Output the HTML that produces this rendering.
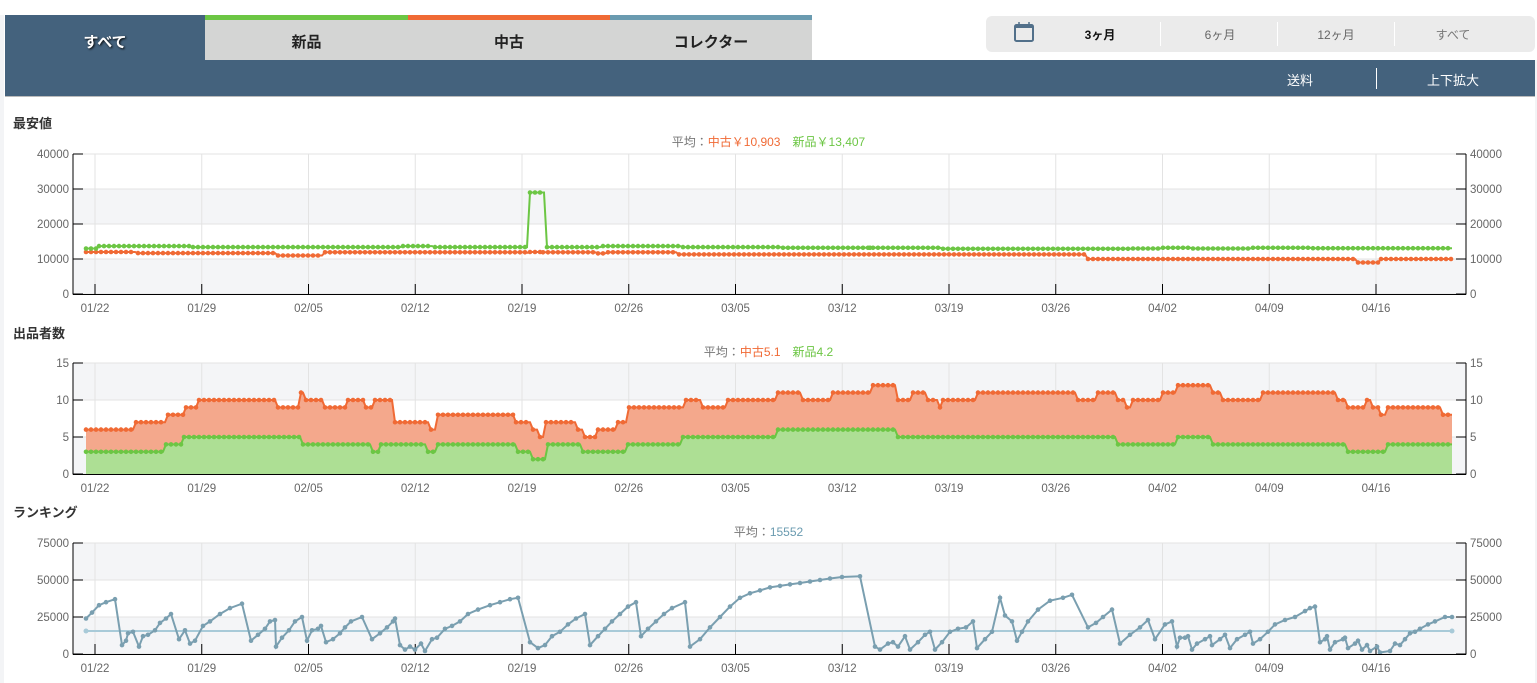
<!DOCTYPE html>
<html><head><meta charset="utf-8">
<style>
body{margin:0;width:1537px;height:683px;background:#fff;font-family:"Liberation Sans","Noto Sans CJK JP",sans-serif;overflow:hidden;position:relative}
.a{position:absolute}
.tab{position:absolute;top:15px;height:45px;text-align:center;line-height:46px;font-weight:bold;font-size:15px;color:#222;background:#d4d5d4;box-sizing:border-box}
.ttl{position:absolute;left:13px;font-size:13px;font-weight:bold;color:#333}
.sub{position:absolute;left:0;width:1537px;text-align:center;font-size:12px;color:#777}
svg text{font-family:"Liberation Sans","DejaVu Sans",sans-serif;font-size:11.5px;fill:#666}
</style></head><body>
<div class="a" style="left:0;top:15px;width:4px;height:668px;background:#f3f4f6"></div>
<div class="a" style="left:1535px;top:60px;width:2px;height:623px;background:#f3f4f6"></div>
<div class="a" style="left:5px;top:15px;width:200px;height:45px;background:#44627d;color:#fff;font-weight:bold;font-size:15px;text-align:center;line-height:55px;text-shadow:1px 1px 2px #000">すべて</div>
<div class="tab" style="left:205px;width:203px;border-top:5px solid #6cc644">新品</div>
<div class="tab" style="left:408px;width:202px;border-top:5px solid #f06a35">中古</div>
<div class="tab" style="left:610px;width:202px;border-top:5px solid #6a9bb0">コレクター</div>
<div class="a" style="left:5px;top:60px;width:1530px;height:36px;background:#44627d;border-bottom:1px solid #bbb"></div>
<div class="a" style="left:1270px;top:70px;width:60px;text-align:center;color:#fff;font-size:13px">送料</div>
<div class="a" style="left:1376px;top:68px;width:1px;height:21px;background:#fff"></div>
<div class="a" style="left:1413px;top:70px;width:80px;text-align:center;color:#fff;font-size:13px">上下拡大</div>
<div class="a" style="left:986px;top:16px;width:549px;height:36px;background:#ebebeb;border-radius:6px"></div>
<svg class="a" style="left:1013px;top:21px" width="22" height="22" viewBox="0 0 22 22"><rect x="2" y="4" width="18" height="16" rx="1.5" fill="none" stroke="#52708a" stroke-width="2"/><rect x="2" y="4" width="18" height="3" fill="#52708a"/><line x1="6" y1="1" x2="6" y2="5" stroke="#52708a" stroke-width="1.5"/><line x1="16" y1="1" x2="16" y2="5" stroke="#52708a" stroke-width="1.5"/></svg>
<div class="a" style="left:1060px;top:26px;width:80px;text-align:center;font-size:12px;font-weight:bold;color:#111">3ヶ月</div>
<div class="a" style="left:1160px;top:22px;width:1px;height:24px;background:#fff"></div>
<div class="a" style="left:1180px;top:26px;width:80px;text-align:center;font-size:12px;color:#666">6ヶ月</div>
<div class="a" style="left:1277px;top:22px;width:1px;height:24px;background:#fff"></div>
<div class="a" style="left:1296px;top:26px;width:80px;text-align:center;font-size:12px;color:#666">12ヶ月</div>
<div class="a" style="left:1394px;top:22px;width:1px;height:24px;background:#fff"></div>
<div class="a" style="left:1413px;top:26px;width:80px;text-align:center;font-size:12px;color:#777">すべて</div>

<div class="ttl" style="top:113px">最安値</div>
<div class="sub" style="top:133px">平均：<span style="color:#f06a35">中古￥10,903</span>　<span style="color:#6cc644">新品￥13,407</span></div>
<div class="ttl" style="top:323px">出品者数</div>
<div class="sub" style="top:343px">平均：<span style="color:#f06a35">中古5.1</span>　<span style="color:#6cc644">新品4.2</span></div>
<div class="ttl" style="top:502px">ランキング</div>
<div class="sub" style="top:523px">平均：<span style="color:#6a9bb0">15552</span></div>

<svg id="s" class="a" style="left:0;top:0" width="1537" height="683"></svg>
<script>
var S=document.getElementById('s'),h='';
var L=73,R=1466,X0=86,X1=1452;
var dates=['01/22','01/29','02/05','02/12','02/19','02/26','03/05','03/12','03/19','03/26','04/02','04/09','04/16'];
function axes(top,bot,max,ticks,bands){
  var sc=function(v){return bot-(bot-top)*v/max};
  for(var i=0;i<ticks.length-1;i++){ if(bands[i]) h+='<rect x="'+L+'" y="'+sc(ticks[i+1])+'" width="'+(R-L)+'" height="'+(sc(ticks[i])-sc(ticks[i+1]))+'" fill="#f4f5f7"/>';}
  ticks.forEach(function(t){var y=sc(t);h+='<line x1="'+L+'" x2="'+R+'" y1="'+y+'" y2="'+y+'" stroke="#e3e3e3"/>';
    h+='<line x1="'+L+'" x2="'+(L+10)+'" y1="'+y+'" y2="'+y+'" stroke="#000" stroke-width="1"/><line x1="'+(R-10)+'" x2="'+R+'" y1="'+y+'" y2="'+y+'" stroke="#000"/>';
    h+='<text x="'+(L-4)+'" y="'+(y+4)+'" text-anchor="end">'+t+'</text><text x="'+(R+4)+'" y="'+(y+4)+'">'+t+'</text>';});
  dates.forEach(function(d,i){var x=95+i*106.75;h+='<line x1="'+x+'" x2="'+x+'" y1="'+top+'" y2="'+bot+'" stroke="#e3e3e3"/><line x1="'+x+'" x2="'+x+'" y1="'+(bot-10)+'" y2="'+bot+'" stroke="#000"/><text x="'+x+'" y="'+(bot+18)+'" text-anchor="middle">'+d+'</text>';});
  return sc;
}
function axline(top,bot){h+='<line x1="'+L+'" x2="'+L+'" y1="'+top+'" y2="'+(bot+.5)+'" stroke="#000"/><line x1="'+R+'" x2="'+R+'" y1="'+top+'" y2="'+(bot+.5)+'" stroke="#000"/><line x1="'+L+'" x2="'+R+'" y1="'+(bot+.5)+'" y2="'+(bot+.5)+'" stroke="#000"/>';}
function step(segs){var p=[];for(var i=0;i<segs.length;i++){var xs=segs[i][0]+(i?3:0),xe=i<segs.length-1?segs[i+1][0]:X1;p.push([xs,segs[i][1]]);p.push([xe,segs[i][1]]);}return p;}
function draw(p,sc,col,fill,dotStep){
  var pts=p.map(function(q){return q[0]+','+sc(q[1]).toFixed(1)}).join(' ');
  if(fill) h+='<polygon points="'+p[0][0]+','+sc(0)+' '+pts+' '+p[p.length-1][0]+','+sc(0)+'" fill="'+fill+'"/>';
  h+='<polyline points="'+pts+'" fill="none" stroke="'+col+'" stroke-width="2"/>';
  if(dotStep){for(var i=0;i<p.length-1;i++){if(p[i][1]!=p[i+1][1])continue;for(var x=p[i][0];x<=p[i+1][0];x+=dotStep)h+='<circle cx="'+x+'" cy="'+sc(p[i][1]).toFixed(1)+'" r="2.3" fill="'+col+'"/>';}}
  else p.forEach(function(q){h+='<circle cx="'+q[0]+'" cy="'+sc(q[1]).toFixed(1)+'" r="2.3" fill="'+col+'"/>';});
}
var G='#6cc644',O='#f06a35';
var s1=axes(154,294,40000,[0,10000,20000,30000,40000],[1,0,1,0]);
var n1=step([[86,13000],[96,13700],[190,13400],[400,13700],[432,13400],[527,29000],[544,13400],[600,13700],[680,13400],[780,13200],[870,13200],[940,12900],[1130,13000],[1160,13200],[1190,13000],[1250,13200],[1310,13100]]);
var u1=step([[86,12000],[135,11700],[275,11000],[322,11900],[525,11800],[527,12000],[540,11900],[595,11600],[605,11900],[676,11300],[1085,10000],[1355,9000],[1378,10000]]);
draw(u1,s1,O,null,5);draw(n1,s1,G,null,5);
axline(154,294);
var s2=axes(363,474,15,[0,5,10,15],[1,0,1]);
var u2=step([[86,6],[133,7],[165,8],[183,9],[196,10],[275,9],[298,11],[303,10],[322,9],[345,10],[363,9],[372,10],[392,7],[428,6],[435,8],[513,7],[530,6],[537,5],[543,7],[575,6],[582,5],[595,6],[615,7],[626,9],[683,10],[700,9],[725,10],[775,11],[800,10],[830,11],[870,12],[895,10],[910,11],[925,10],[937,9],[940,10],[975,11],[1075,10],[1095,11],[1115,10],[1124,9],[1130,10],[1160,11],[1175,12],[1210,11],[1220,10],[1260,11],[1335,10],[1345,9],[1364,10],[1370,9],[1378,8],[1385,9],[1440,8]]);
var n2=step([[86,3],[163,4],[181,5],[300,4],[370,3],[378,4],[425,3],[435,4],[515,3],[530,2],[545,4],[580,3],[625,4],[680,5],[775,6],[895,5],[1115,4],[1175,5],[1210,4],[1345,3],[1385,4]]);
draw(u2,s2,O,'#f4a88c',5);draw(n2,s2,G,'#addf94',5);
axline(363,474);
var s3=axes(543,654,75000,[0,25000,50000,75000],[1,0,1]);
h+='<line x1="86" x2="1452" y1="'+s3(15552)+'" y2="'+s3(15552)+'" stroke="#a8cad8" stroke-width="2"/><circle cx="86" cy="'+s3(15552)+'" r="2.5" fill="#a8cad8"/><circle cx="1452" cy="'+s3(15552)+'" r="2.5" fill="#a8cad8"/>';
var r=[[86,24],[92,28],[99,33],[106,35],[115,37],[122,6],[126,9],[128,14],[133,15],[139,5],[143,12],[148,13],[155,16],[160,21],[166,24],[171,27],[179,10],[185,16],[190,7],[195,9],[203,19],[210,22],[220,27],[230,31],[242,34],[251,9],[258,13],[265,17],[270,22],[275,23],[276,5],[282,11],[289,16],[295,22],[302,25],[307,9],[312,16],[318,17],[321,19],[326,8],[333,10],[340,14],[345,18],[351,22],[362,25],[372,10],[380,14],[387,18],[393,22],[395,24],[400,6],[405,3],[410,5],[415,3],[421,7],[425,2],[432,10],[437,11],[445,17],[452,19],[460,22],[468,27],[478,30],[490,33],[500,35],[510,37],[518,38],[530,8],[538,4],[545,6],[552,12],[560,15],[568,20],[576,24],[585,27],[590,6],[598,12],[605,17],[612,22],[620,27],[628,32],[636,35],[641,12],[648,17],[656,22],[664,27],[672,31],[685,35],[690,5],[700,10],[710,18],[720,25],[730,32],[740,38],[750,41],[760,43],[770,45],[780,46],[790,47],[800,48],[810,49],[820,50],[830,51],[842,52],[860,52.5],[875,5],[880,3],[888,7],[893,8],[898,5],[905,12],[910,3],[918,8],[925,13],[930,15],[935,3],[942,8],[950,15],[958,17],[966,18],[973,22],[977,4],[985,10],[992,15],[1000,38],[1005,26],[1012,22],[1017,9],[1022,15],[1028,22],[1038,30],[1050,36],[1063,38],[1072,40],[1088,18],[1096,21],[1103,25],[1112,30],[1120,7],[1130,13],[1140,18],[1148,23],[1155,10],[1165,20],[1172,22],[1177,5],[1180,11],[1185,11],[1188,12],[1192,3],[1197,7],[1205,10],[1210,12],[1212,6],[1220,10],[1225,13],[1230,4],[1237,10],[1245,13],[1250,15],[1253,7],[1260,10],[1268,15],[1275,20],[1285,23],[1295,25],[1305,29],[1310,31],[1315,32],[1320,8],[1325,10],[1327,12],[1330,3],[1335,8],[1343,10],[1345,11],[1348,4],[1355,7],[1358,9],[1362,3],[1367,6],[1370,2],[1377,5],[1380,1],[1390,2],[1395,7],[1400,6],[1405,10],[1410,14],[1415,15],[1420,17],[1428,20],[1435,22],[1445,25],[1452,25]];
r=r.map(function(q){return [q[0],q[1]*1000]});
draw(r,s3,'#7a9fb0',null,0);
axline(543,654);
S.innerHTML=h;
</script>
</body></html>
